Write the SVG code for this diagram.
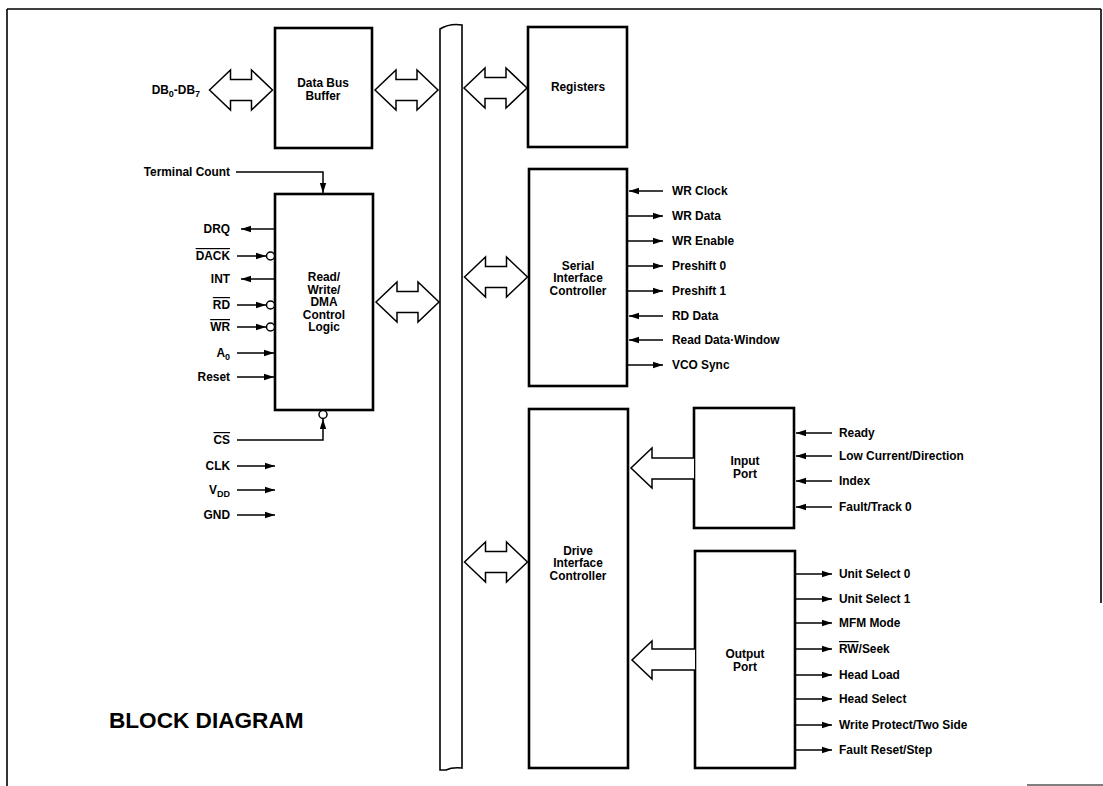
<svg xmlns="http://www.w3.org/2000/svg" width="1103" height="786" viewBox="0 0 1103 786">
<style>
.box{fill:#fff;stroke:#000;stroke-width:2.6}
.t{font-family:"Liberation Sans",Arial,Helvetica,sans-serif;font-weight:bold;font-size:11.9px;fill:#000}
.c{text-anchor:middle}
.e{text-anchor:end}
.ln{stroke:#000;stroke-width:1.5;fill:none}
.ha{fill:#fff;stroke:#000;stroke-width:1.5}
.bub{fill:#fff;stroke:#000;stroke-width:1.5}
.ov{text-decoration:overline}
</style>
<defs>
<marker id="ah" viewBox="0 0 10 8" refX="10" refY="4" markerWidth="10" markerHeight="8" markerUnits="userSpaceOnUse" orient="auto">
<path d="M0,0.8 L10,4 L0,7.2 Z" fill="#000"/>
</marker>
<path id="dbl" d="M-31.5,0 L-10.5,-20 L-10.5,-10.5 L10.5,-10.5 L10.5,-20 L31.5,0 L10.5,20 L10.5,10.5 L-10.5,10.5 L-10.5,20 Z"/>
</defs>
<rect width="1103" height="786" fill="#fff"/>

<g id="frame" fill="none" stroke="#000" stroke-width="1.6">
<line x1="7" y1="9" x2="1101" y2="9"/>
<line x1="7" y1="9" x2="7" y2="786"/>
<line x1="1101" y1="9" x2="1101" y2="603"/>
<line x1="1027" y1="785" x2="1103" y2="785" stroke="#555"/>
</g>

<g id="bus">
<path d="M440,29 Q450,23 462,25 L462,768 Q452,767 446,770 L440,770 Z" fill="#fff" stroke="#000" stroke-width="1.6"/>
</g>

<g id="data-bus-buffer">
<rect class="box" x="275" y="28" width="97" height="120"/>
<text class="t c" x="323" y="87">Data Bus</text>
<text class="t c" x="323" y="99.5">Buffer</text>
</g>

<g id="registers">
<rect class="box" x="528" y="27" width="99" height="120"/>
<text class="t c" x="578" y="91">Registers</text>
</g>

<g id="rw-dma-control">
<rect class="box" x="275" y="194" width="98" height="216"/>
<text class="t c" x="324" y="281">Read/</text>
<text class="t c" x="324" y="293.5">Write/</text>
<text class="t c" x="324" y="306">DMA</text>
<text class="t c" x="324" y="318.5">Control</text>
<text class="t c" x="324" y="331">Logic</text>
</g>

<g id="serial-interface-controller">
<rect class="box" x="529" y="169" width="98" height="217"/>
<text class="t c" x="578" y="269.5">Serial</text>
<text class="t c" x="578" y="282">Interface</text>
<text class="t c" x="578" y="294.5">Controller</text>
</g>

<g id="drive-interface-controller">
<rect class="box" x="529" y="409" width="99" height="359"/>
<text class="t c" x="578" y="554.5">Drive</text>
<text class="t c" x="578" y="567">Interface</text>
<text class="t c" x="578" y="579.5">Controller</text>
</g>

<g id="input-port">
<rect class="box" x="694" y="408" width="100" height="120"/>
<text class="t c" x="745" y="465">Input</text>
<text class="t c" x="745" y="477.5">Port</text>
</g>

<g id="output-port">
<rect class="box" x="695" y="551" width="100" height="217"/>
<text class="t c" x="745" y="658">Output</text>
<text class="t c" x="745" y="670.5">Port</text>
</g>

<g id="connectors">
<use href="#dbl" class="ha" transform="translate(241,90)"/>
<use href="#dbl" class="ha" transform="translate(406.5,90)"/>
<use href="#dbl" class="ha" transform="translate(495.5,88)"/>
<use href="#dbl" class="ha" transform="translate(407.5,302)"/>
<use href="#dbl" class="ha" transform="translate(496,277)"/>
<use href="#dbl" class="ha" transform="translate(496,562)"/>
<path class="ha" d="M694,458 L652,458 L652,448 L631,468 L652,488 L652,479 L694,479"/>
<path class="ha" d="M695,649 L652,649 L652,641 L632,660 L652,679 L652,670 L695,670"/>

<path class="ln" d="M236,172 L323,172 L323,193" marker-end="url(#ah)"/>
<line class="ln" x1="275" y1="229" x2="241" y2="229" marker-end="url(#ah)"/>
<line class="ln" x1="237" y1="256" x2="266" y2="256" marker-end="url(#ah)"/>
<circle class="bub" cx="270.5" cy="256" r="4"/>
<line class="ln" x1="275" y1="279" x2="241" y2="279" marker-end="url(#ah)"/>
<line class="ln" x1="237" y1="305" x2="266" y2="305" marker-end="url(#ah)"/>
<circle class="bub" cx="270.5" cy="305" r="4"/>
<line class="ln" x1="237" y1="327" x2="266" y2="327" marker-end="url(#ah)"/>
<circle class="bub" cx="270.5" cy="327" r="4"/>
<line class="ln" x1="237" y1="353" x2="274" y2="353" marker-end="url(#ah)"/>
<line class="ln" x1="237" y1="377" x2="274" y2="377" marker-end="url(#ah)"/>
<path class="ln" d="M237,440 L323,440 L323,419" marker-end="url(#ah)"/>
<circle class="bub" cx="323" cy="414.5" r="4"/>
<line class="ln" x1="237" y1="466" x2="275" y2="466" marker-end="url(#ah)"/>
<line class="ln" x1="237" y1="490" x2="275" y2="490" marker-end="url(#ah)"/>
<line class="ln" x1="237" y1="515" x2="275" y2="515" marker-end="url(#ah)"/>

<line class="ln" x1="663" y1="191" x2="629" y2="191" marker-end="url(#ah)"/>
<line class="ln" x1="628" y1="216" x2="663" y2="216" marker-end="url(#ah)"/>
<line class="ln" x1="628" y1="241" x2="663" y2="241" marker-end="url(#ah)"/>
<line class="ln" x1="628" y1="266" x2="663" y2="266" marker-end="url(#ah)"/>
<line class="ln" x1="628" y1="291" x2="663" y2="291" marker-end="url(#ah)"/>
<line class="ln" x1="663" y1="316" x2="629" y2="316" marker-end="url(#ah)"/>
<line class="ln" x1="663" y1="340" x2="629" y2="340" marker-end="url(#ah)"/>
<line class="ln" x1="628" y1="365" x2="663" y2="365" marker-end="url(#ah)"/>

<line class="ln" x1="832" y1="433" x2="796" y2="433" marker-end="url(#ah)"/>
<line class="ln" x1="832" y1="456" x2="796" y2="456" marker-end="url(#ah)"/>
<line class="ln" x1="832" y1="481" x2="796" y2="481" marker-end="url(#ah)"/>
<line class="ln" x1="832" y1="507" x2="796" y2="507" marker-end="url(#ah)"/>

<line class="ln" x1="796" y1="574" x2="832" y2="574" marker-end="url(#ah)"/>
<line class="ln" x1="796" y1="599" x2="832" y2="599" marker-end="url(#ah)"/>
<line class="ln" x1="796" y1="623" x2="832" y2="623" marker-end="url(#ah)"/>
<line class="ln" x1="796" y1="649" x2="832" y2="649" marker-end="url(#ah)"/>
<line class="ln" x1="796" y1="675" x2="832" y2="675" marker-end="url(#ah)"/>
<line class="ln" x1="796" y1="699" x2="832" y2="699" marker-end="url(#ah)"/>
<line class="ln" x1="796" y1="725" x2="832" y2="725" marker-end="url(#ah)"/>
<line class="ln" x1="796" y1="750" x2="832" y2="750" marker-end="url(#ah)"/>
</g>

<g id="labels">
<text class="t e" x="200" y="94">DB<tspan font-size="9" dy="2.5">0</tspan><tspan dy="-2.5">-DB</tspan><tspan font-size="9" dy="2.5">7</tspan></text>
<text class="t e" x="230" y="176">Terminal Count</text>
<text class="t e" x="230" y="233">DRQ</text>
<text class="t e" x="230" y="260"><tspan class="ov">DACK</tspan></text>
<text class="t e" x="230" y="283">INT</text>
<text class="t e" x="230" y="309"><tspan class="ov">RD</tspan></text>
<text class="t e" x="230" y="331"><tspan class="ov">WR</tspan></text>
<text class="t e" x="230" y="357">A<tspan font-size="9" dy="2.5">0</tspan></text>
<text class="t e" x="230" y="381">Reset</text>
<text class="t e" x="230" y="444"><tspan class="ov">CS</tspan></text>
<text class="t e" x="230" y="470">CLK</text>
<text class="t e" x="230" y="494">V<tspan font-size="9" dy="2.5">DD</tspan></text>
<text class="t e" x="230" y="519">GND</text>

<text class="t" x="672" y="195">WR Clock</text>
<text class="t" x="672" y="220">WR Data</text>
<text class="t" x="672" y="245">WR Enable</text>
<text class="t" x="672" y="270">Preshift 0</text>
<text class="t" x="672" y="295">Preshift 1</text>
<text class="t" x="672" y="320">RD Data</text>
<text class="t" x="672" y="344">Read Data·Window</text>
<text class="t" x="672" y="369">VCO Sync</text>

<text class="t" x="839" y="437">Ready</text>
<text class="t" x="839" y="460">Low Current/Direction</text>
<text class="t" x="839" y="485">Index</text>
<text class="t" x="839" y="511">Fault/Track 0</text>

<text class="t" x="839" y="578">Unit Select 0</text>
<text class="t" x="839" y="603">Unit Select 1</text>
<text class="t" x="839" y="627">MFM Mode</text>
<text class="t" x="839" y="653"><tspan class="ov">RW</tspan>/Seek</text>
<text class="t" x="839" y="679">Head Load</text>
<text class="t" x="839" y="703">Head Select</text>
<text class="t" x="839" y="729">Write Protect/Two Side</text>
<text class="t" x="839" y="754">Fault Reset/Step</text>

<text x="109" y="728" style="font-family:'Liberation Sans',Arial,Helvetica,sans-serif;font-weight:bold;font-size:22.6px">BLOCK DIAGRAM</text>
</g>
</svg>
